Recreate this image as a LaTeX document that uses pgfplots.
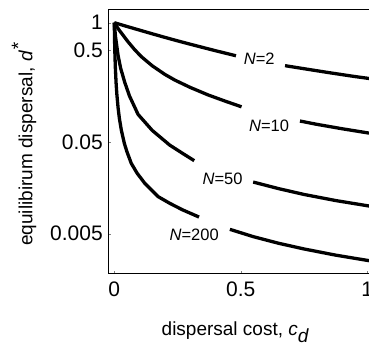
\documentclass[border=0pt]{standalone}
\usepackage{fontspec}
\setmainfont{Liberation Sans}
\usepackage{pgfplots}
\pgfplotsset{compat=1.18}
\usetikzlibrary{calc}
\tikzset{crv/.style={black, line width=3.3bp, line join=round, mark=none}}
\begin{document}
\begin{tikzpicture}
\begin{axis}[
  scale only axis,
  width=263bp, height=264bp,
  xmin=-0.0237, xmax=1.016,
  ymode=log, ymin=0.001832, ymax=1.386,
  xtick={0,0.5,1}, xticklabels={0,0.5,1},
  ytick={0.005,0.05,0.5,1}, yticklabels={0.005,0.05,0.5,1},
  yminorticks=false,
  xtick pos=bottom, ytick pos=left,
  major tick length=3bp,
  /pgf/number format/assume math mode=true,
  tick label style={font=\fontsize{21bp}{24bp}\selectfont},
  label style={font=\fontsize{19bp}{22bp}\selectfont},
  xticklabel style={yshift=-5bp},
  yticklabel style={xshift=-2bp},
  axis line style={line width=0.8bp, black},
  xlabel={dispersal cost, \textit{c}$_{\textit{d}}$},
  ylabel={equilibirum dispersal, \textit{d}$^{\textit{*}}$},
  x label style={at={(axis description cs:0.483,0)}, anchor=base, yshift=-62bp},
  y label style={at={(axis description cs:0,0.49)}, anchor=base, yshift=76bp},
  clip=true,
]
% N=2
\addplot[crv] coordinates {(0,1) (0.05,0.910) (0.1,0.830) (0.15,0.757) (0.2,0.692) (0.25,0.634) (0.3,0.583) (0.35,0.537) (0.4,0.495) (0.481,0.436)};
\addplot[crv] coordinates {(0.675,0.340) (0.75,0.315) (0.85,0.285) (0.95,0.259) (1.0,0.248) (1.02,0.243)};
% N=10
\addplot[crv] coordinates {(0,1) (0.01,0.905) (0.02,0.826) (0.035,0.728) (0.054,0.621) (0.08,0.510) (0.107,0.426) (0.15,0.339) (0.2,0.273) (0.239,0.237) (0.3,0.197) (0.371,0.163) (0.44,0.139) (0.503,0.121)};
\addplot[crv] coordinates {(0.734,0.0847) (0.8,0.078) (0.9,0.0698) (1.0,0.063) (1.02,0.0618)};
% N=50
\addplot[crv] coordinates {(0,1) (0.002,0.855) (0.005,0.700) (0.0146,0.446) (0.025,0.320) (0.041,0.225) (0.06,0.159) (0.094,0.100) (0.15,0.0669) (0.219,0.0463) (0.27,0.0376) (0.316,0.0313)};
\addplot[crv] coordinates {(0.549,0.0183) (0.65,0.0155) (0.75,0.0134) (0.875,0.0115) (1.0,0.0101) (1.02,0.0099)};
% N=200
\addplot[crv] coordinates {(0,1) (0.0004,0.833) (0.001,0.667) (0.002,0.500) (0.004,0.333) (0.007,0.222) (0.01,0.167) (0.015,0.118) (0.02,0.091) (0.0277,0.0676) (0.04,0.048) (0.05,0.0392) (0.067,0.0293) (0.09,0.0229) (0.12,0.0178) (0.173,0.0127) (0.22,0.0107) (0.27,0.0091) (0.335,0.0076)};
\addplot[crv] coordinates {(0.457,0.00558) (0.55,0.00464) (0.65,0.00393) (0.75,0.00341) (0.875,0.00292) (1.0,0.00256) (1.02,0.00251)};
\node[font=\fontsize{16.5bp}{19bp}\selectfont] at (axis cs:0.573,0.40) {\textit{N}=2};
\node[font=\fontsize{16.5bp}{19bp}\selectfont] at (axis cs:0.612,0.0751) {\textit{N}=10};
\node[font=\fontsize{16.5bp}{19bp}\selectfont] at (axis cs:0.428,0.0197) {\textit{N}=50};
\node[font=\fontsize{16.5bp}{19bp}\selectfont] at (axis cs:0.316,0.00484) {\textit{N}=200};
\end{axis}
\pgfresetboundingbox
\path[use as bounding box] ($(current axis.south west)+(-108.3bp,-71.3bp)$) rectangle ($(current axis.north west)+(260.7bp,9.7bp)$);
\end{tikzpicture}
\end{document}
